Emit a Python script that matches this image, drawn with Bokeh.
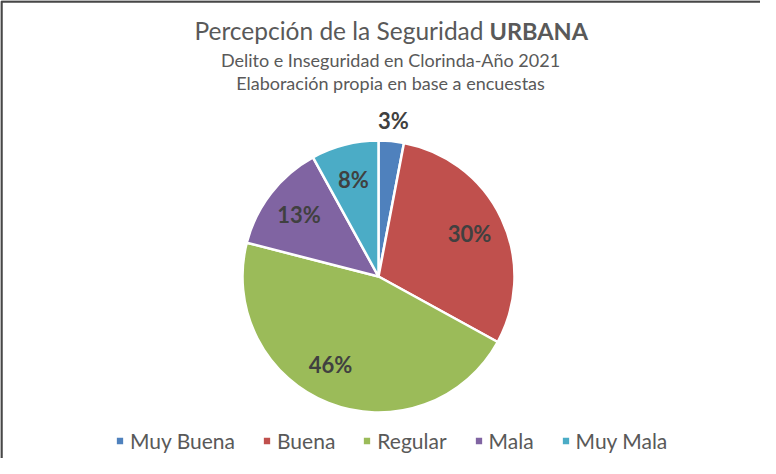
import numpy as np
from bokeh.plotting import figure
from bokeh.models import ColumnDataSource, Range1d, Legend, LegendItem
from bokeh.core.properties import value
from bokeh.embed import file_html
from bokeh.resources import INLINE

# ---- data ----
categories = ["Muy Buena", "Buena", "Regular", "Mala", "Muy Mala"]
percentages = [3, 30, 46, 13, 8]
colors = ["#4F81BD", "#C0504D", "#9BBB59", "#8064A2", "#4BACC6"]

title_main = "Percepción de la Seguridad"
title_bold = "URBANA"
subtitle1 = "Delito e Inseguridad en Clorinda-Año 2021"
subtitle2 = "Elaboración propia en base a encuestas"

FONT = "Lato"
W, H = 760, 458

p = figure(width=W, height=H, output_backend="svg", toolbar_location=None,
           x_range=Range1d(0, W), y_range=Range1d(0, H),
           x_axis_type=None, y_axis_type=None, min_border=0)
p.grid.visible = False
p.outline_line_color = None
p.background_fill_color = "white"
p.border_fill_color = "white"

# frame lines (top and left edge of chart area)
p.line(x=[1, 1, W], y=[0, H - 1, H - 1], line_color="#474747", line_width=2.5)

# ---- pie ----
cx, cy, R = 378, 182, 136
vals = np.array(percentages, dtype=float)
frac = vals / vals.sum()
cum = np.concatenate([[0.0], np.cumsum(frac)])
th1 = cum[:-1] * 2 * np.pi
th2 = cum[1:] * 2 * np.pi
src = ColumnDataSource(dict(cat=categories, start=np.pi / 2 - th2,
                            end=np.pi / 2 - th1, color=colors))
wr = p.wedge(x=cx, y=cy, radius=R, start_angle="start", end_angle="end",
             fill_color="color", line_color="white", line_width=2.5, source=src)

mid = (th1 + th2) / 2
rlab = np.where(frac < 0.05, R + 21, 0.74 * R)
lang = np.where(frac > 0.4, mid + 0.12, mid)
lsrc = ColumnDataSource(dict(x=cx + rlab * np.sin(lang), y=cy + rlab * np.cos(lang),
                             t=[f"{v:.0f}%" for v in percentages]))
p.text(x="x", y="y", text="t", source=lsrc, text_font=value(FONT),
       text_font_style="bold", text_font_size="22px", text_color="#404040",
       text_align="center", text_baseline="middle")

# ---- titles ----
p.text(x=[483], y=[428], text=[title_main], text_font=value(FONT),
       text_font_size="24.5px", text_color="#595959", text_align="right",
       text_baseline="middle")
p.text(x=[489], y=[428], text=[title_bold], text_font=value(FONT),
       text_font_size="23.5px", text_font_style="bold", text_color="#595959",
       text_align="left", text_baseline="middle")
p.text(x=[390], y=[399], text=[subtitle1], text_font=value(FONT),
       text_font_size="18px", text_color="#595959", text_align="center",
       text_baseline="middle")
p.text(x=[390], y=[376], text=[subtitle2], text_font=value(FONT),
       text_font_size="18px", text_color="#595959", text_align="center",
       text_baseline="middle")

# ---- legend ----
items = [LegendItem(label=c, renderers=[wr], index=i) for i, c in enumerate(categories)]
legend = Legend(items=items, orientation="horizontal", location=(114, 5),
                label_text_font=FONT, label_text_font_size="21px",
                label_text_color="#595959", glyph_width=11, glyph_height=11,
                label_standoff=5, spacing=26, padding=0, margin=0,
                border_line_color=None, background_fill_alpha=0)
p.add_layout(legend)

open("out.html", "w").write(file_html(p, INLINE))
